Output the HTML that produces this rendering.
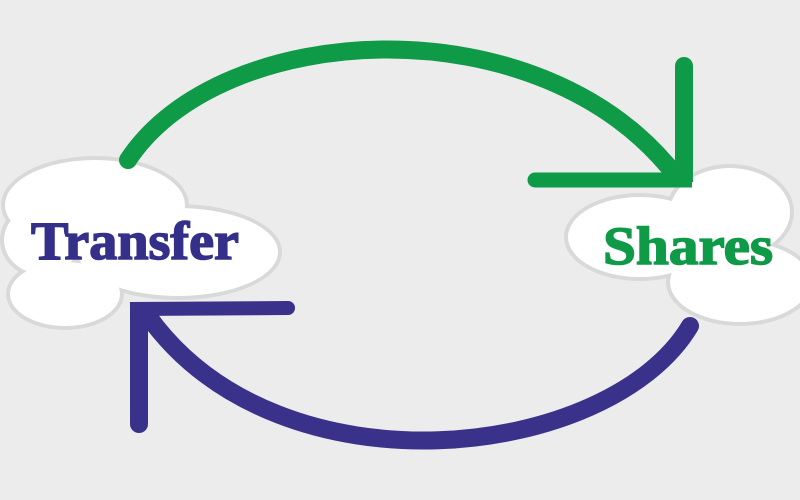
<!DOCTYPE html>
<html><head><meta charset="utf-8"><style>
html,body{margin:0;padding:0;background:#ebeceb;}
svg{display:block}
</style></head><body>
<svg width="800" height="500" viewBox="0 0 800 500" xmlns="http://www.w3.org/2000/svg">
<rect width="800" height="500" fill="#ebeceb"/>
<g fill="#d8d9d9">
<ellipse cx="95" cy="205" rx="94" ry="49"/>
<ellipse cx="178" cy="252" rx="104" ry="48"/>
<ellipse cx="65" cy="294" rx="59" ry="36"/>
<ellipse cx="42" cy="240" rx="42" ry="38"/>
<ellipse cx="730" cy="212" rx="64" ry="48"/>
<ellipse cx="640" cy="237" rx="76" ry="44"/>
<ellipse cx="740" cy="282" rx="74" ry="44"/>
</g>
<g fill="#ffffff">
<ellipse cx="95" cy="205" rx="90" ry="45"/>
<ellipse cx="178" cy="252" rx="100" ry="44"/>
<ellipse cx="65" cy="294" rx="55" ry="32"/>
<ellipse cx="42" cy="240" rx="38" ry="34"/>
<ellipse cx="730" cy="212" rx="60" ry="44"/>
<ellipse cx="640" cy="237" rx="72" ry="40"/>
<ellipse cx="740" cy="282" rx="70" ry="40"/>
</g>
<text x="31" y="259" font-family="Liberation Serif, serif" font-weight="bold" font-size="54" fill="#34308a" stroke="#34308a" stroke-width="1.5" textLength="208" lengthAdjust="spacingAndGlyphs">Transfer</text>
<text x="603" y="264" font-family="Liberation Serif, serif" font-weight="bold" font-size="54" fill="#0f9a48" stroke="#0f9a48" stroke-width="1.5" textLength="170" lengthAdjust="spacingAndGlyphs">Shares</text>
<g fill="none" stroke="#0f9a48" stroke-linecap="round">
<path d="M128,160 C 220,20 540,0 676,176" stroke-width="18"/>
<path d="M684,66 L684,182" stroke-width="18" stroke-linecap="butt"/>
<path d="M535,180 L692,180" stroke-width="15" stroke-linecap="butt"/>
</g>
<circle cx="684" cy="66" r="9" fill="#0f9a48"/>
<circle cx="535" cy="180" r="7.5" fill="#0f9a48"/>
<g fill="none" stroke="#39318a">
<path d="M690,326 C 610,460 280,500 148,316" stroke-width="18" stroke-linecap="round"/>
<path d="M139,306 L139,424" stroke-width="18"/>
<path d="M130,309 L288,308" stroke-width="14"/>
</g>
<circle cx="139" cy="424" r="9" fill="#39318a"/>
<circle cx="288" cy="308" r="7" fill="#39318a"/>
</svg>
</body></html>
